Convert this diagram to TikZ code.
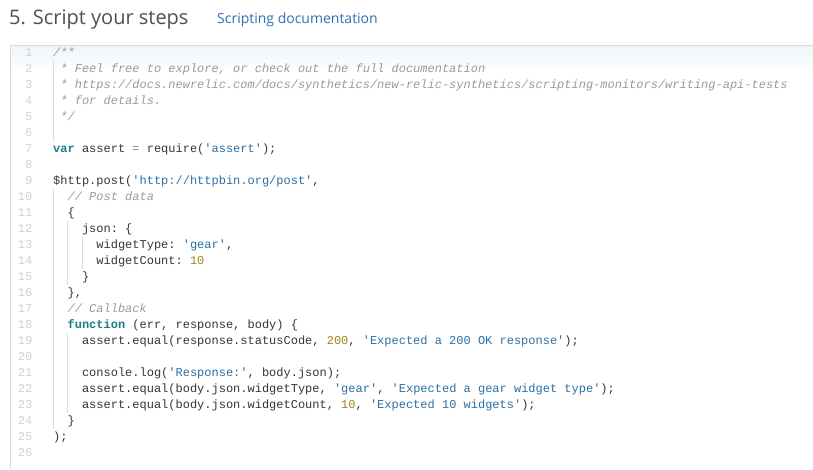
\documentclass[tikz,border=0pt]{standalone}
\usepackage{fontspec}
\setmainfont{Open Sans}
\setmonofont{Liberation Mono}
\usepackage{tikz}

\definecolor{titlegray}{HTML}{505050}
\definecolor{linkblue}{HTML}{2F6EB2}
\definecolor{codetext}{HTML}{363636}
\definecolor{commentgray}{HTML}{9A9A9A}
\definecolor{linenum}{HTML}{D2D2D2}
\definecolor{guidegray}{HTML}{DCDCDC}
\definecolor{boxgray}{HTML}{DADADA}
\definecolor{topshade}{HTML}{EEF5FA}
\definecolor{jskeyword}{HTML}{1A7D8A}
\definecolor{jsstring}{HTML}{2A70A6}
\definecolor{jsnumber}{HTML}{A2861C}
\definecolor{jsoperator}{HTML}{8A8A8A}

\newcommand{\jskw}[1]{\textcolor{jskeyword}{\textbf{#1}}}
\newcommand{\jsstr}[1]{\textcolor{jsstring}{#1}}
\newcommand{\jsnum}[1]{\textcolor{jsnumber}{#1}}
\newcommand{\jsop}[1]{\textcolor{jsoperator}{#1}}

\tikzset{
  codeline/.style={anchor=base west, inner sep=0pt, text=codetext,
    font=\fontsize{12}{12}\selectfont\ttfamily},
  commentline/.style={codeline, text=commentgray,
    font=\fontsize{12}{12}\selectfont\ttfamily\itshape},
  lineno/.style={anchor=base east, inner sep=0pt, text=linenum,
    font=\fontsize{12}{12}\selectfont\ttfamily},
  guide/.style={draw=guidegray, line width=1pt},
}

\begin{document}
\begin{tikzpicture}[x=1pt,y=-1pt]

\fill[white] (0,0) rectangle (813,469) ;
\useasboundingbox (0,0) rectangle (813,469) ;

% heading
\node[anchor=base west, inner sep=0pt, text=titlegray,
  font=\fontsize{20}{20}\selectfont] (title) at (9,24.5) {5. Script your steps} ;
\node[anchor=base west, inner sep=0pt, text=linkblue,
  font=\fontsize{14}{14}\selectfont] (doclink) at (217,23.5) {Scripting documentation} ;

% editor box
\shade[top color=topshade, bottom color=white] (11,46) rectangle (813,74) ;
\draw[boxgray, line width=1pt] (813,45.5) -- (10.5,45.5) -- (10.5,469) ;

% indent guides
\foreach \c/\a/\b in {0/2/6, 0/10/24, 2/12/15, 4/13/14, 2/19/23}
  \draw[guide] ({53.5+\c*7.2},{45+(\a-1)*16}) -- ({53.5+\c*7.2},{45+\b*16}) ;

% line numbers
\foreach \n in {1,...,26}
  \node[lineno] (n\n) at (32.5,{56+(\n-1)*16}) {\n} ;

% code
\node[commentline] (l1) at (53,56) {/**} ;
\node[commentline] (l2) at (60.2,72) {* Feel free to explore, or check out the full documentation} ;
\node[commentline] (l3) at (60.2,88) {* https://docs.newrelic.com/docs/synthetics/new-relic-synthetics/scripting-monitors/writing-api-tests} ;
\node[commentline] (l4) at (60.2,104) {* for details.} ;
\node[commentline] (l5) at (60.2,120) {*/} ;
\node[codeline] (l7) at (53,152) {\jskw{var} assert \jsop{=} require(\jsstr{'assert'});} ;
\node[codeline] (l9) at (53,184) {\$http.post(\jsstr{'http://httpbin.org/post'},} ;
\node[commentline] (l10) at (67.4,200) {// Post data} ;
\node[codeline] (l11) at (67.4,216) {\{} ;
\node[codeline] (l12) at (81.8,232) {json: \{} ;
\node[codeline] (l13) at (96.2,248) {widgetType: \jsstr{'gear'},} ;
\node[codeline] (l14) at (96.2,264) {widgetCount: \jsnum{10}} ;
\node[codeline] (l15) at (81.8,280) {\}} ;
\node[codeline] (l16) at (67.4,296) {\},} ;
\node[commentline] (l17) at (67.4,312) {// Callback} ;
\node[codeline] (l18) at (67.4,328) {\jskw{function} (err, response, body) \{} ;
\node[codeline] (l19) at (81.8,344) {assert.equal(response.statusCode, \jsnum{200}, \jsstr{'Expected a 200 OK response'});} ;
\node[codeline] (l21) at (81.8,376) {console.log(\jsstr{'Response:'}, body.json);} ;
\node[codeline] (l22) at (81.8,392) {assert.equal(body.json.widgetType, \jsstr{'gear'}, \jsstr{'Expected a gear widget type'});} ;
\node[codeline] (l23) at (81.8,408) {assert.equal(body.json.widgetCount, \jsnum{10}, \jsstr{'Expected 10 widgets'});} ;
\node[codeline] (l24) at (67.4,424) {\}} ;
\node[codeline] (l25) at (53,440) {);} ;

\end{tikzpicture}
\end{document}
